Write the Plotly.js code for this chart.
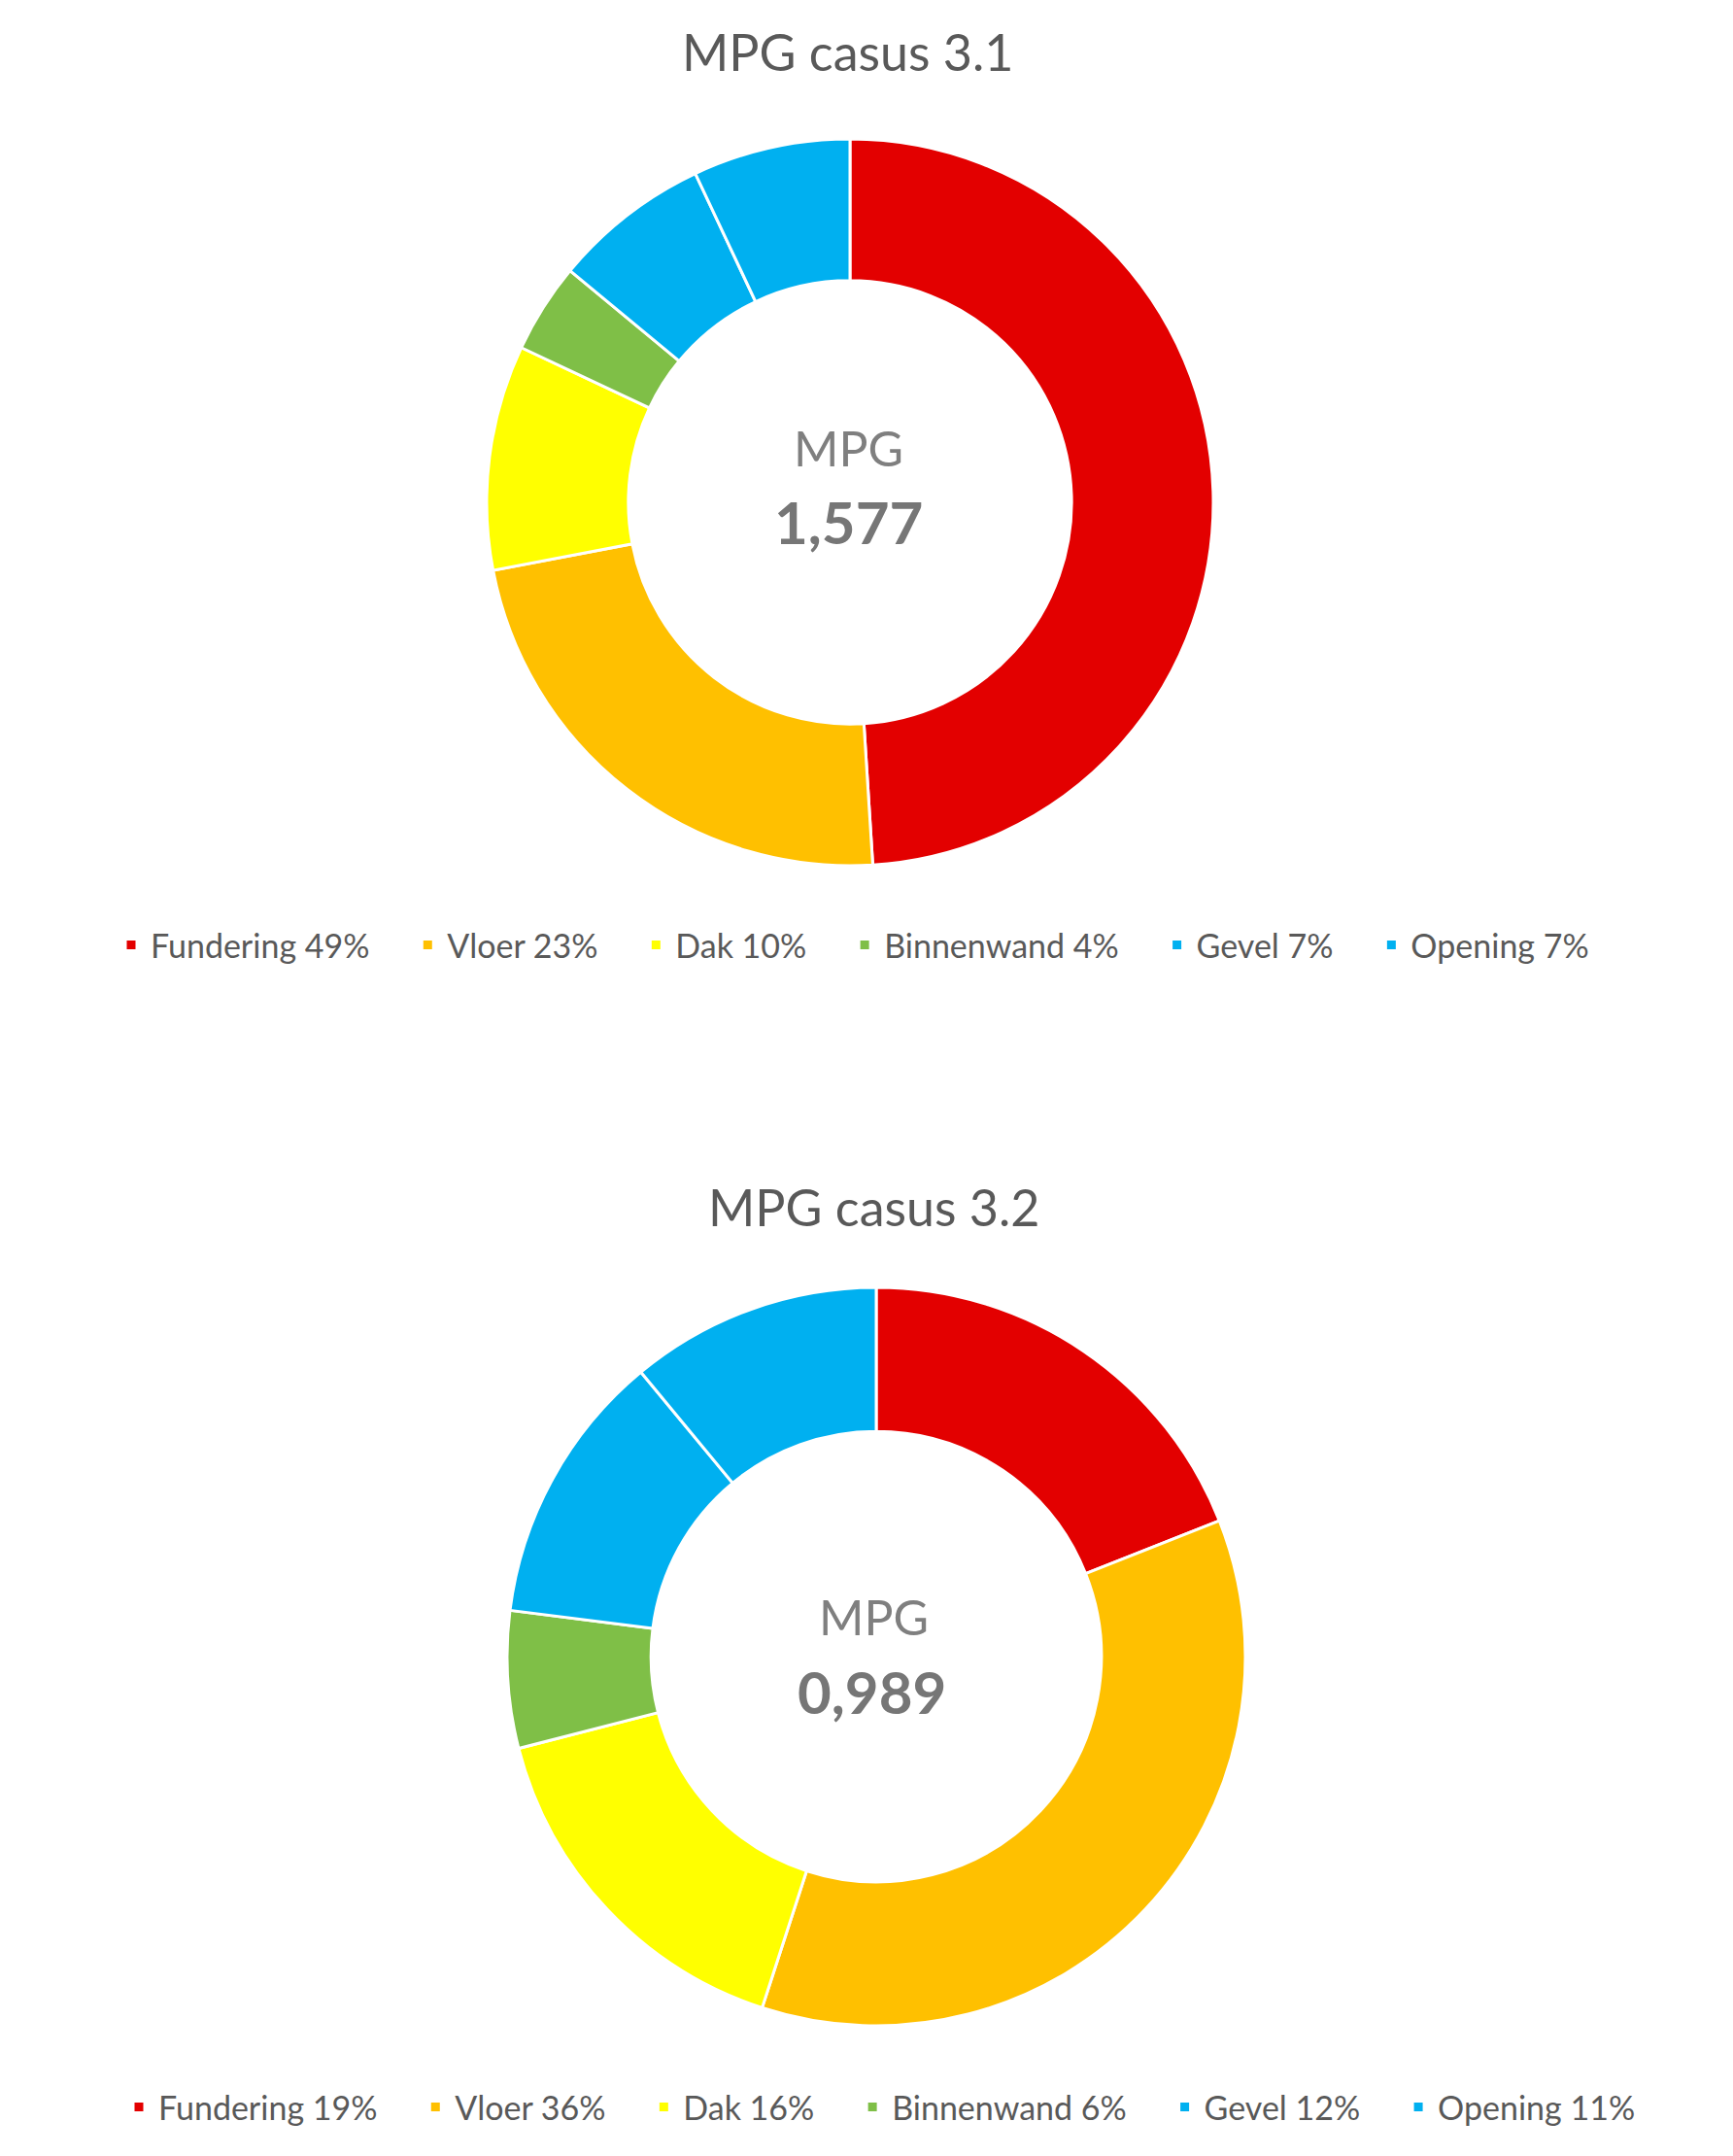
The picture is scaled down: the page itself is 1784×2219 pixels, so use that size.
<!DOCTYPE html>
<html>
<head>
<meta charset="utf-8">
<script src="https://cdn.plot.ly/plotly-3.0.1.min.js"></script>
<style>html,body{margin:0;padding:0;background:#fff;}#chart{width:1784px;height:2219px;}</style>
</head>
<body>
<div id="chart"></div>
<script>
// ---- data ----
const categories = ["Fundering", "Vloer", "Dak", "Binnenwand", "Gevel", "Opening"];
const values31 = [49, 23, 10, 4, 7, 7];
const values32 = [19, 36, 16, 6, 12, 11];
const titles = ["MPG casus 3.1", "MPG casus 3.2"];
const centerLabel = "MPG";
const mpgValues = ["1,577", "0,989"];
const colors = ["#E30000", "#FFC000", "#FFFF00", "#7FBF47", "#00B0F0", "#00B0F0"];

const FONT = "Lato, 'Open Sans', sans-serif";
const W = 1784, H = 2219;
const px = v => v / W;
const py = v => 1 - v / H;

// legend spacing padding (non-breaking spaces after every entry but the last)
const PAD = "\u00a0\u00a0\u00a0\u00a0";
function labelsFor(vals) {
  return categories.map((c, i) => c + " " + vals[i] + "%" + (i < categories.length - 1 ? PAD : ""));
}

const common = {
  type: "pie",
  hole: 0.61,
  sort: false,
  direction: "clockwise",
  rotation: 0,
  textinfo: "none",
  hoverinfo: "label",
  marker: { colors: colors, line: { color: "#FFFFFF", width: 3 } }
};

const trace1 = Object.assign({}, common, {
  labels: labelsFor(values31),
  values: values31,
  domain: { x: [px(501), px(1249)], y: [py(891), py(143)] },
  legend: "legend"
});
const trace2 = Object.assign({}, common, {
  labels: labelsFor(values32),
  values: values32,
  domain: { x: [px(522), px(1282)], y: [py(2085), py(1325)] },
  legend: "legend2"
});

const legendBase = {
  orientation: "h",
  xanchor: "center",
  yanchor: "middle",
  font: { family: FONT, size: 34, color: "#595959" },
  bgcolor: "rgba(0,0,0,0)",
  traceorder: "normal"
};

const layout = {
  width: W,
  height: H,
  margin: { l: 0, r: 0, t: 0, b: 0 },
  paper_bgcolor: "#FFFFFF",
  showlegend: true,
  legend: Object.assign({}, legendBase, { x: px(878), y: py(973) }),
  legend2: Object.assign({}, legendBase, { x: px(906), y: py(2169) }),
  annotations: [
    { text: titles[0], x: px(872), y: py(53), xref: "paper", yref: "paper", showarrow: false,
      xanchor: "center", yanchor: "middle", font: { family: FONT, size: 52, color: "#595959" } },
    { text: titles[1], x: px(899), y: py(1242), xref: "paper", yref: "paper", showarrow: false,
      xanchor: "center", yanchor: "middle", font: { family: FONT, size: 52, color: "#595959" } },
    { text: centerLabel, x: px(873), y: py(461), xref: "paper", yref: "paper", showarrow: false,
      xanchor: "center", yanchor: "middle", font: { family: FONT, size: 50, color: "#7F7F7F" } },
    { text: "<b>" + mpgValues[0] + "</b>", x: px(873), y: py(537), xref: "paper", yref: "paper", showarrow: false,
      xanchor: "center", yanchor: "middle", font: { family: FONT, size: 60, color: "#767676" } },
    { text: centerLabel, x: px(899), y: py(1664), xref: "paper", yref: "paper", showarrow: false,
      xanchor: "center", yanchor: "middle", font: { family: FONT, size: 50, color: "#7F7F7F" } },
    { text: "<b>" + mpgValues[1] + "</b>", x: px(898), y: py(1741), xref: "paper", yref: "paper", showarrow: false,
      xanchor: "center", yanchor: "middle", font: { family: FONT, size: 60, color: "#767676" } }
  ]
};

Plotly.newPlot("chart", [trace1, trace2], layout, { displayModeBar: false, staticPlot: true });
</script>
</body>
</html>
